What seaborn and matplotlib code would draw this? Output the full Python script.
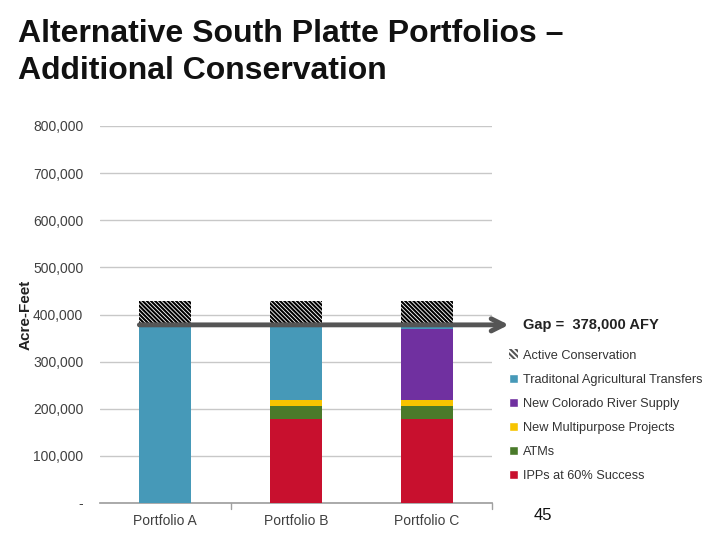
import numpy as np
import pandas as pd
import matplotlib
matplotlib.use("Agg")
import matplotlib.pyplot as plt
from matplotlib.patches import Patch
import seaborn as sns

# ── Data ─────────────────────────────────────────────────────────────────────
portfolios = ["Portfolio A", "Portfolio B", "Portfolio C"]
ipps = [0, 178000, 178000]
atms = [0, 28000, 28000]
multipurpose = [0, 13000, 13000]
colorado = [0, 0, 150000]
ag_transfers = [378000, 159000, 9000]
conservation = [50000, 50000, 50000]
gap = 378000

layers = [
    ("IPPs at 60% Success", ipps, "#c8102e"),
    ("ATMs", atms, "#4a7a2a"),
    ("New Multipurpose Projects", multipurpose, "#f7c400"),
    ("New Colorado River Supply", colorado, "#7030a0"),
    ("Traditonal Agricultural Transfers", ag_transfers, "#4699b8"),
]

sns.set_theme(style="white")
plt.rcParams["font.family"] = ["Liberation Sans", "DejaVu Sans"]
plt.rcParams["hatch.linewidth"] = 1.5

fig = plt.figure(figsize=(7.2, 5.4), dpi=100)
ax = fig.add_axes([100 / 720, 37 / 540, 392 / 720, 377 / 540])

bottom = np.zeros(len(portfolios))
for name, vals, col in layers:
    sns.barplot(x=portfolios, y=vals, bottom=bottom, color=col, width=0.4,
                errorbar=None, ax=ax, linewidth=0, saturation=1, zorder=3)
    bottom = bottom + np.array(vals)

sns.barplot(x=portfolios, y=conservation, bottom=bottom, color="white", width=0.4,
            errorbar=None, ax=ax, linewidth=0, saturation=1, zorder=3,
            hatch="\\\\\\\\\\\\\\\\", edgecolor="black")

ax.set_ylim(0, 800000)
ax.set_xlim(-0.5, 2.5)
yt = np.arange(0, 800001, 100000)
ax.set_yticks(yt)
ax.set_yticklabels(["-"] + [f"{v:,.0f}" for v in yt[1:]], color="#404040", fontsize=10)
ax.tick_params(axis="y", length=0, pad=12)
ax.set_xticks(range(3))
ax.set_xticklabels(portfolios, color="#404040", fontsize=10)
ax.tick_params(axis="x", length=0, pad=8)
ax.grid(axis="y", color="#c8c8c8", linewidth=1, zorder=0)
for s in ["top", "right", "left"]:
    ax.spines[s].set_visible(False)
ax.spines["bottom"].set_color("#a0a0a0")
for xb in [0.5, 2.5]:
    ax.plot([xb, xb], [0, -12000], color="#a0a0a0", lw=1, clip_on=False)
ax.set_xlabel("")
ax.set_ylabel("Acre-Feet", fontsize=11, fontweight="bold", color="#222222", labelpad=0)

# gap arrow
ax.annotate("", xy=(2.65, gap), xytext=(-0.22, gap), xycoords="data",
            arrowprops=dict(arrowstyle="->", lw=3.5, color="#555555",
                            mutation_scale=22), annotation_clip=False, zorder=5)
fig.text(523 / 720, 1 - 325 / 540, "Gap =  378,000 AFY", fontsize=10.5,
         fontweight="bold", color="#222222", va="center", ha="left")

handles = [Patch(facecolor="white", hatch="\\\\\\\\\\\\", edgecolor="#555555", linewidth=0,
                 label="Active Conservation")]
for name, vals, col in reversed(layers):
    handles.append(Patch(facecolor=col, label=name))
fig.legend(handles=handles, loc="upper left", bbox_to_anchor=(497 / 720, 1 - 338 / 540),
           frameon=False, fontsize=9.2, handlelength=0.75, handleheight=0.75,
           handletextpad=0.35, labelspacing=0.93, labelcolor="#333333")

fig.text(18 / 720, 1 - 19 / 540, "Alternative South Platte Portfolios –\nAdditional Conservation",
         fontsize=23, fontweight="bold", color="#111111", va="top", ha="left",
         linespacing=1.3)
fig.text(543 / 720, 1 - 515 / 540, "45", fontsize=12, color="#111111", ha="center", va="center")

plt.savefig("out.png", dpi=100)
